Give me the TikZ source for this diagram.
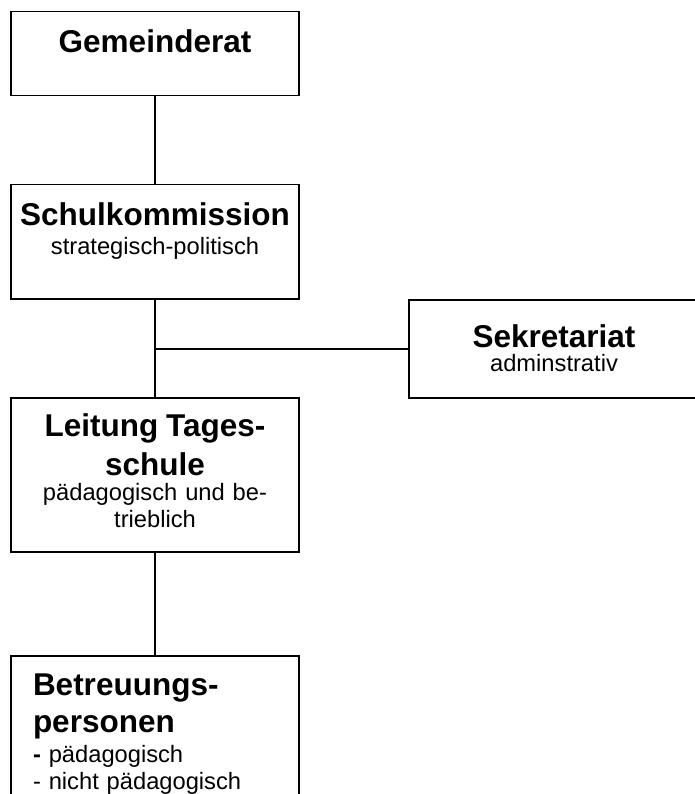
\documentclass[tikz,border=0pt]{standalone}
\usepackage{fontspec}
\setmainfont{Liberation Sans}
\usepackage{tikz}
\usetikzlibrary{positioning}

\newcommand{\headfont}{\fontsize{31.5}{36}\bfseries\selectfont}
\newcommand{\subfont}{\fontsize{23.7}{27}\selectfont}

\begin{document}
\begin{tikzpicture}[x=1pt, y=-1pt, line width=1.5pt,
  orgbox/.style={draw, rectangle, anchor=north, inner sep=0pt, text width=288pt,
    align=center, font=\subfont, text height=41pt},
  orgline/.style={line width=1.5pt}]
%%%%% Frame %%%%%
\useasboundingbox (0,0) rectangle (695,794);
%%%%% Boxes %%%%%
\node[orgbox, text depth=43pt] (gemeinderat) at (155,11) {{\headfont Gemeinderat}};
\node[orgbox, text depth=73pt] (kommission) at (155,184)
  {{\headfont Schulkommission}\\[2pt]strategisch-politisch};
\node[orgbox, text width=290pt, text height=48pt, text depth=50pt] (sekretariat) at (554,299)
  {{\headfont Sekretariat}\\[-3pt]adminstrativ};
\node[orgbox, text height=39pt, text depth=115pt] (leitung) at (155,397)
  {{\headfont Leitung Tages-}\\[8pt]{\headfont schule}\\[-2pt]p\"adagogisch und be-\\trieblich};
\node[orgbox, align=left, text width=244pt, inner xsep=22pt, text height=40pt, text depth=200pt] (betreuung) at (155,655)
  {{\headfont Betreuungs-}\\[10pt]{\headfont personen}\\[3pt]\textbf{-} p\"adagogisch\\- nicht p\"adagogisch};
%%%%% Connectors %%%%%
\coordinate (abzweig) at (kommission.south |- sekretariat.west);
\draw[orgline] (gemeinderat) -- (kommission);
\draw[orgline] (kommission) -- (leitung);
\draw[orgline] (leitung) -- (betreuung);
\draw[orgline] (abzweig) -- (sekretariat.west);
\end{tikzpicture}
\end{document}
